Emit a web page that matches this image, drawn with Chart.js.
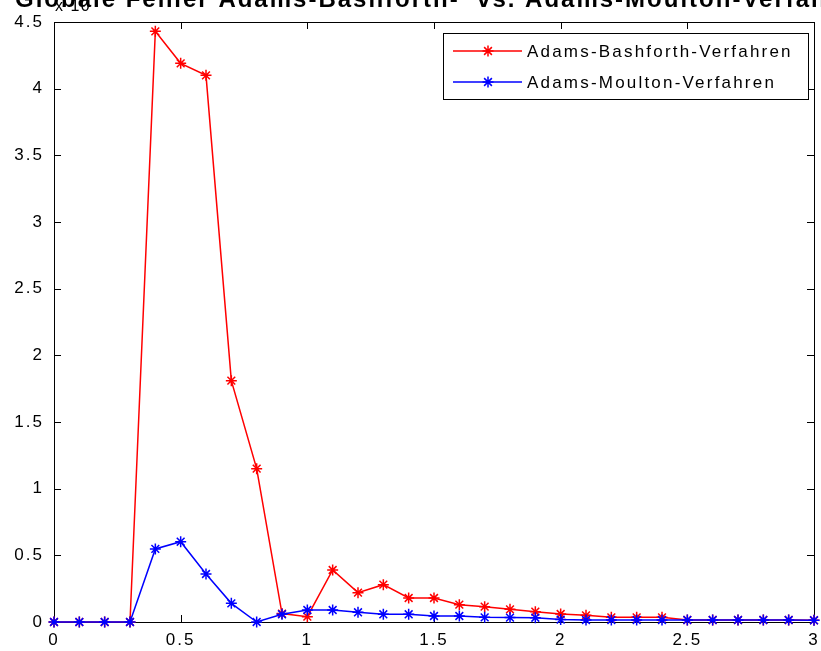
<!DOCTYPE html>
<html>
<head>
<meta charset="utf-8">
<title>Globale Fehler</title>
<script src="https://cdn.jsdelivr.net/npm/chart.js@4/dist/chart.umd.min.js"></script>
<style>
    html, body { margin: 0; padding: 0; background: #fff; }
    #wrap { width: 821px; height: 651px; }
</style>
</head>
<body>
<div id="wrap"><canvas id="lineChart" width="821" height="651"></canvas></div>
<script>
// time steps t
var tValues = [0, 0.1, 0.2, 0.3, 0.4, 0.5, 0.6, 0.7, 0.8, 0.9,
    1.0, 1.1, 1.2, 1.3, 1.4, 1.5, 1.6, 1.7, 1.8, 1.9,
    2.0, 2.1, 2.2, 2.3, 2.4, 2.5, 2.6, 2.7, 2.8, 2.9, 3.0];

// global error (x 10^-?)
var bashforthErr = [0, 0, 0, 0, 4.43, 4.19, 4.10, 1.81, 1.15, 0.063,
    0.04, 0.39, 0.22, 0.28, 0.18, 0.18, 0.13, 0.115, 0.095, 0.077,
    0.06, 0.05, 0.035, 0.035, 0.035, 0.015, 0.015, 0.015, 0.015, 0.015, 0.013];
var moultonErr = [0, 0, 0, 0, 0.548, 0.602, 0.36, 0.14, 0.0, 0.058,
    0.09, 0.09, 0.073, 0.058, 0.058, 0.045, 0.045, 0.035, 0.033, 0.032,
    0.018, 0.015, 0.015, 0.015, 0.015, 0.015, 0.015, 0.015, 0.015, 0.015, 0.013];

var xTicks = [0, 0.5, 1, 1.5, 2, 2.5, 3];
var yTicks = [0, 0.5, 1, 1.5, 2, 2.5, 3, 3.5, 4, 4.5];

var seriesLabels = ["Adams-Bashforth-Verfahren", "Adams-Moulton-Verfahren"];
var chartTitle = "Globale Fehler Adams-Bashforth-  vs. Adams-Moulton-Verfahren";
var exponentLabel = "x 10";

var FONT = '"Liberation Sans", Arial, sans-serif';

function toPoints(values) {
    return tValues.map(function (t, i) {
        return {x: t, y: values[i]};
    });
}

function drawLine(ctx, x1, y1, x2, y2) {
    ctx.beginPath();
    ctx.moveTo(x1, y1);
    ctx.lineTo(x2, y2);
    ctx.stroke();
}

// box + inward ticks like matlab
var matlabAxes = {
    id: 'matlabAxes',
    beforeDraw: function (chart) {
        chart.ctx.letterSpacing = '2px';
    },
    beforeDatasetsDraw: function (chart) {
        var ctx = chart.ctx;
        var a = chart.chartArea;
        var tl = 7;
        ctx.save();
        ctx.strokeStyle = '#000';
        ctx.lineWidth = 1;
        ctx.strokeRect(a.left + 0.5, a.top + 0.5, a.right - a.left, a.bottom - a.top);
        chart.scales.x.ticks.forEach(function (t) {
            var px = Math.round(chart.scales.x.getPixelForValue(t.value)) + 0.5;
            drawLine(ctx, px, a.bottom, px, a.bottom - tl);
            drawLine(ctx, px, a.top, px, a.top + tl);
        });
        chart.scales.y.ticks.forEach(function (t) {
            var py = Math.round(chart.scales.y.getPixelForValue(t.value)) + 0.5;
            drawLine(ctx, a.left, py, a.left + tl, py);
            drawLine(ctx, a.right, py, a.right - tl, py);
        });
        ctx.restore();
    },
    afterDraw: function (chart) {
        var ctx = chart.ctx;
        ctx.save();
        ctx.fillStyle = '#000';
        ctx.textBaseline = 'alphabetic';
        ctx.textAlign = 'left';

        // title, cut off at the top like in the screenshot
        ctx.letterSpacing = '2px';
        ctx.font = 'bold 24px ' + FONT;
        ctx.fillText(chartTitle, 15, 7);

        ctx.font = '16px ' + FONT;
        ctx.letterSpacing = '1.5px';
        ctx.fillText(exponentLabel, 55, 11);

        // legend box
        var lx = 443, ly = 33, lw = 365, lh = 66;
        ctx.fillStyle = '#fff';
        ctx.fillRect(lx, ly, lw, lh);
        ctx.strokeStyle = '#000';
        ctx.lineWidth = 1;
        ctx.strokeRect(lx + 0.5, ly + 0.5, lw, lh);

        ctx.font = '17px ' + FONT;
        ctx.letterSpacing = '2.2px';
        ctx.textBaseline = 'middle';
        chart.data.datasets.forEach(function (ds, i) {
            var y = 51 + i * 31;
            ctx.strokeStyle = ds.borderColor;
            ctx.lineWidth = 1.5;
            drawLine(ctx, 453, y, 522, y);
            Chart.helpers.drawPoint(ctx, {pointStyle: 'star', radius: 5.5, borderWidth: 1.5, rotation: 0}, 488, y);
            ctx.fillStyle = '#000';
            ctx.fillText(ds.label, 527, y + 1);
        });
        ctx.restore();
    }
};

function plainTick(value) {
    return String(value);
}

function canvasLine() {
    var tickFont = {family: FONT, size: 17};
    new Chart(document.getElementById("lineChart").getContext("2d"), {
        type: 'line',
        data: {
            datasets: [
                {
                    label: seriesLabels[0],
                    data: toPoints(bashforthErr),
                    borderColor: 'rgb(255,0,0)',
                    backgroundColor: 'rgb(255,0,0)',
                    borderWidth: 1.5,
                    pointStyle: 'star',
                    pointRadius: 5.5,
                    pointBorderWidth: 1.5,
                    tension: 0,
                    clip: false,
                    order: 2
                }, {
                    label: seriesLabels[1],
                    data: toPoints(moultonErr),
                    borderColor: 'rgb(0,0,255)',
                    backgroundColor: 'rgb(0,0,255)',
                    borderWidth: 1.5,
                    pointStyle: 'star',
                    pointRadius: 5.5,
                    pointBorderWidth: 1.5,
                    tension: 0,
                    clip: false,
                    order: 1
                }
            ]
        },
        options: {
            responsive: false,
            animation: false,
            events: [],
            layout: {padding: {top: 22, right: 7, left: 0, bottom: 0}},
            plugins: {
                legend: {display: false},
                tooltip: {enabled: false},
                title: {display: false}
            },
            scales: {
                x: {
                    type: 'linear',
                    min: 0,
                    max: 3,
                    grid: {display: false, drawTicks: false},
                    border: {display: false},
                    afterBuildTicks: function (scale) {
                        scale.ticks = xTicks.map(function (v) { return {value: v}; });
                    },
                    afterFit: function (scale) {
                        scale.height = 29;
                        scale.paddingLeft = 0;
                        scale.paddingRight = 0;
                    },
                    ticks: {color: '#000', font: tickFont, padding: 8, maxRotation: 0, autoSkip: false, callback: plainTick}
                },
                y: {
                    type: 'linear',
                    min: 0,
                    max: 4.5,
                    grid: {display: false, drawTicks: false},
                    border: {display: false},
                    afterBuildTicks: function (scale) {
                        scale.ticks = yTicks.map(function (v) { return {value: v}; });
                    },
                    afterFit: function (scale) {
                        scale.width = 54;
                        scale.paddingTop = 0;
                        scale.paddingBottom = 0;
                    },
                    ticks: {color: '#000', font: tickFont, padding: 10, autoSkip: false, callback: plainTick}
                }
            }
        },
        plugins: [matlabAxes]
    });
}

canvasLine();
</script>
</body>
</html>
